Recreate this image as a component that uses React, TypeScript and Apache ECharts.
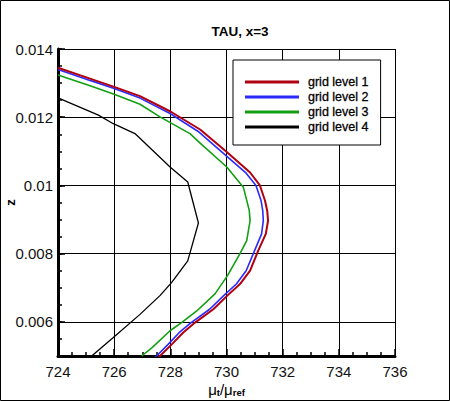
import React, { useEffect, useRef } from "react";
import * as echarts from "echarts";

const titleText = "TAU, x=3";
const xTicks = [724, 726, 728, 730, 732, 734, 736];
const yTicks = [0.006, 0.008, 0.01, 0.012, 0.014];
const seriesNames = ["grid level 1", "grid level 2", "grid level 3", "grid level 4"];
const seriesColors = ["#b00010", "#2a2aff", "#12a012", "#000000"];
const seriesWidths = [2, 1.6, 1.6, 1.3];

const level1X = [724.0, 725.14, 726.0, 726.92, 728.02, 729.06, 730.01, 730.84, 731.19, 731.37, 731.45, 731.48, 731.4, 731.13, 730.84, 730.48, 730.03, 729.53, 728.88, 728.46, 728.05, 727.57];
const level1Z = [0.01345, 0.01313, 0.01289, 0.01262, 0.01216, 0.01164, 0.01098, 0.01038, 0.01, 0.00956, 0.00926, 0.00897, 0.00858, 0.00809, 0.0075, 0.00711, 0.00677, 0.00637, 0.00598, 0.00569, 0.00534, 0.00495];

const level2X = [724.0, 725.14, 726.0, 726.92, 727.99, 728.98, 729.9, 730.7, 731.05, 731.23, 731.29, 731.31, 731.25, 731.0, 730.7, 730.35, 729.9, 729.4, 728.74, 728.32, 727.92, 727.45];
const level2Z = [0.0134, 0.01308, 0.01284, 0.01256, 0.01211, 0.01159, 0.01093, 0.01036, 0.01, 0.00956, 0.00926, 0.00897, 0.00858, 0.00809, 0.0075, 0.00711, 0.00677, 0.00637, 0.00598, 0.00569, 0.00534, 0.00495];

const level3X = [724.0, 725.14, 726.0, 726.92, 727.63, 728.7, 729.06, 730.01, 730.6, 730.81, 730.84, 730.72, 730.48, 730.03, 729.59, 728.94, 728.4, 727.99, 727.34, 726.98];
const level3Z = [0.01324, 0.01292, 0.01267, 0.01238, 0.01201, 0.01152, 0.01124, 0.01054, 0.00995, 0.00927, 0.00897, 0.00838, 0.008, 0.00735, 0.00682, 0.00632, 0.00598, 0.00574, 0.00524, 0.005];

const level4X = [724.0, 725.44, 725.97, 726.74, 727.99, 728.62, 729.0, 728.62, 728.05, 727.63, 726.92, 725.97, 725.2];
const level4Z = [0.01257, 0.01206, 0.01181, 0.01152, 0.01054, 0.0101, 0.0089, 0.00779, 0.00716, 0.00677, 0.00622, 0.00554, 0.005];

const allX = [level1X, level2X, level3X, level4X];
const allZ = [level1Z, level2Z, level3Z, level4Z];

const FONT = "Liberation Sans, Arial, Helvetica, sans-serif";

export default function App() {
  const ref = useRef<HTMLDivElement>(null);
  useEffect(() => {
    document.body.style.margin = "0";
    const chart = echarts.init(ref.current!, null, { renderer: "svg" });
    const fmt = (v: number) => String(parseFloat(Number(v).toFixed(4)));
    chart.setOption({
      animation: false,
      backgroundColor: "#ffffff",
      title: {
        text: titleText,
        left: 240,
        top: 24,
        padding: 0,
        textAlign: "center",
        textStyle: { fontFamily: FONT, fontSize: 13.5, fontWeight: "bold", color: "#000" },
      },
      grid: { left: 58, right: 55, top: 49, bottom: 45, containLabel: false, outerBoundsMode: "none" },
      legend: {
        orient: "vertical",
        left: 233,
        top: 60,
        data: seriesNames,
        icon: "rect",
        itemWidth: 54,
        itemHeight: 3,
        itemGap: 1,
        padding: [15, 12, 11, 12],
        backgroundColor: "#ffffff",
        borderColor: "#000",
        borderWidth: 1,
        borderRadius: 0,
        textStyle: { fontFamily: FONT, fontSize: 12.5, fontWeight: 500, color: "#000", lineHeight: 14, padding: [0, 0, 0, 4], textBorderColor: "#000", textBorderWidth: 0.3 },
      },
      xAxis: {
        type: "value",
        min: xTicks[0],
        max: xTicks[xTicks.length - 1],
        interval: 2,
        name: "{a|μ}{b|t}{a|/μ}{b|ref}",
        nameLocation: "middle",
        nameGap: 23,
        nameMoveOverlap: false,
        nameTextStyle: {
          rich: {
            a: { fontFamily: FONT, fontSize: 15, color: "#000", verticalAlign: "bottom" },
            b: { fontFamily: FONT, fontSize: 9.5, fontWeight: "bold", color: "#000", verticalAlign: "bottom", padding: [8, 0, 0, 0] },
          },
        },
        axisLine: { show: true, onZero: false, lineStyle: { color: "#000", width: 3 } },
        axisTick: { show: true, inside: true, length: 7, lineStyle: { color: "#000", width: 1.5 } },
        minorTick: { show: true, splitNumber: 4, length: 4, lineStyle: { color: "#000", width: 1.5 } },
        axisLabel: { fontFamily: FONT, fontSize: 15, color: "#111", margin: 8 },
        splitLine: { show: true, lineStyle: { color: "#000", width: 1 } },
      },
      yAxis: [
        {
          type: "value",
          min: 0.005,
          max: 0.014,
          interval: 0.0005,
          position: "left",
          name: "z",
          nameLocation: "middle",
          nameRotate: 90,
          nameGap: 41,
          nameMoveOverlap: false,
          nameTextStyle: { fontFamily: FONT, fontSize: 13, fontWeight: "bold", color: "#000" },
          axisLine: { show: true, onZero: false, lineStyle: { color: "#000", width: 3 } },
          axisTick: { show: true, inside: true, length: 7, customValues: yTicks, lineStyle: { color: "#000", width: 1.5 } },
          axisLabel: { customValues: yTicks, formatter: fmt, fontFamily: FONT, fontSize: 15, color: "#111", margin: 5 },
          splitLine: { show: true, lineStyle: { color: "#000", width: 1 } },
        },
        {
          type: "value",
          min: 0.005,
          max: 0.014,
          interval: 0.0005,
          position: "left",
          offset: 0,
          axisLine: { show: false },
          axisTick: { show: true, inside: true, length: 4, lineStyle: { color: "#000", width: 1.5 } },
          axisLabel: { show: false },
          splitLine: { show: false },
        },
      ],
      graphic: [
        {
          type: "rect",
          shape: { x: 0.5, y: 0.5, width: 449, height: 400 },
          style: { fill: "none", stroke: "#000", lineWidth: 1 },
          silent: true,
        },
      ],
      series: seriesNames.map((name, i) => ({
        name,
        type: "line",
        yAxisIndex: 0,
        showSymbol: false,
        symbol: "none",
        clip: true,
        color: seriesColors[i],
        lineStyle: { color: seriesColors[i], width: seriesWidths[i] },
        data: allX[i].map((x, k) => [x, allZ[i][k]]),
        z: 10 - i,
      })),
    });
    return () => chart.dispose();
  }, []);
  return <div ref={ref} style={{ width: 450, height: 401 }} />;
}
